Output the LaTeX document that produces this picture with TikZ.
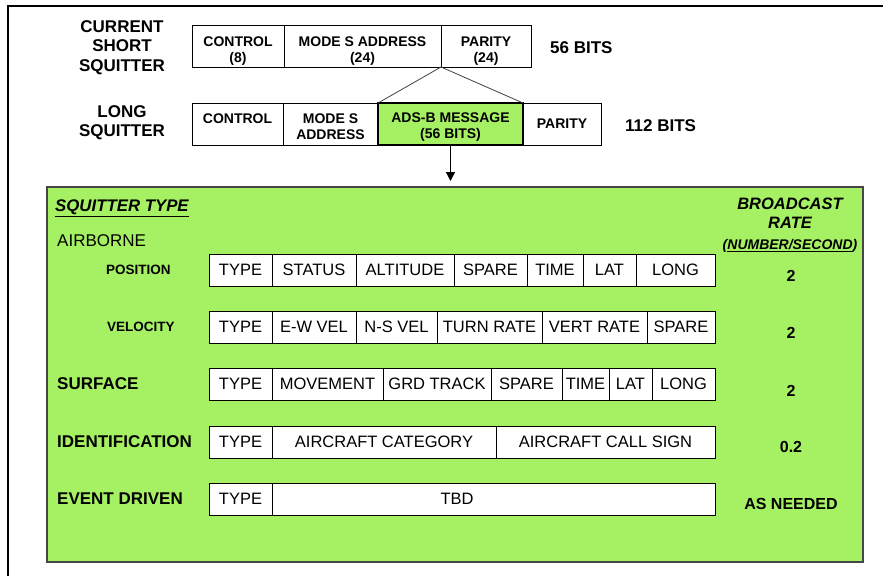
\documentclass[tikz,border=0pt]{standalone}
\usepackage{fontspec}
\setmainfont{Liberation Sans}
\usetikzlibrary{arrows.meta,positioning}
\definecolor{adsgreen}{RGB}{166,241,99}
\definecolor{panelrim}{RGB}{70,70,70}
\newcommand{\padtop}[1]{\rule{0pt}{#1}}
\tikzset{
  field/.style={draw=black, fill=white, line width=0.9pt, inner sep=0pt, outer sep=0pt, minimum height=32pt, font=\fontsize{16.5}{18}\selectfont},
  hdr/.style={draw=black, fill=white, line width=0.9pt, inner sep=0pt, outer sep=0pt, minimum height=42pt, align=center, font=\bfseries\fontsize{14}{16}\selectfont},
  title/.style={align=center, inner sep=0pt, font=\bfseries\fontsize{17}{19.5}\selectfont},
  kind/.style={anchor=west, inner sep=0pt, font=\bfseries\fontsize{17}{19}\selectfont},
  subkind/.style={anchor=west, inner sep=0pt, font=\bfseries\fontsize{13.5}{16}\selectfont},
  rate/.style={align=center, inner sep=0pt, font=\bfseries\fontsize{16}{19}\selectfont},
  link/.style={draw=black!75, line width=0.8pt},
  sig/.style={-{Triangle[length=9pt, width=9pt]}, line width=1.4pt, draw=black}
}
\begin{document}
\begin{tikzpicture}[x=1pt, y=-1pt]
  \useasboundingbox (0,0) rectangle (883,576);
  % page frame
  \draw[line width=2pt] (8,576) -- (8,6) -- (883,6);

  % short squitter
  \node[title] (stitle) at (122,47.5) {CURRENT\\SHORT\\SQUITTER};
  \node[hdr, minimum width=92pt, anchor=north west] (sctrl) at (192,25) {\padtop{20pt}CONTROL\\(8)};
  \node[hdr, minimum width=157pt, right=0pt of sctrl] (saddr) {\padtop{20pt}MODE S ADDRESS\\(24)};
  \node[hdr, minimum width=90pt, right=0pt of saddr] (spar) {\padtop{20pt}PARITY\\(24)};
  \node[title, anchor=west] (sbits) at (550,48) {56 BITS};

  % long squitter
  \node[title] (ltitle) at (122,122.5) {LONG\\SQUITTER};
  \node[hdr, minimum width=91pt, anchor=north west] (lctrl) at (192,103) {\padtop{15pt}CONTROL\\\phantom{ADDRESS}};
  \node[hdr, minimum width=95pt, right=0pt of lctrl] (laddr) {\padtop{15pt}MODE S\\ADDRESS};
  \node[hdr, minimum width=145pt, fill=adsgreen, line width=1.8pt, right=0pt of laddr] (lmsg) {\padtop{15pt}ADS-B MESSAGE\\(56 BITS)};
  \node[hdr, minimum width=78pt, fill=none, right=0pt of lmsg] (lpar) {PARITY};
  \node[title, anchor=west] (lbits) at (625,126) {112 BITS};

  \draw[link] (spar.south west) -- (lmsg.north west);
  \draw[link] (spar.south west) -- (lmsg.north east);
  \coordinate (msgend) at (450.5,181);
  \draw[sig] (lmsg.south) -- (msgend);

  % squitter types
  \node[draw=panelrim, fill=adsgreen, line width=1.3pt, inner sep=0pt, outer sep=0pt, minimum width=816pt, minimum height=375pt, anchor=north west] (panel) at (47,187) {};
  \node[kind, font=\bfseries\itshape\fontsize{16.8}{18}\selectfont] (sqtype) at (55,208) {\underline{SQUITTER TYPE}};
  \node[kind, font=\fontsize{17}{19}\selectfont] (air) at (57,241) {AIRBORNE};
  \node[subkind] (posn) at (106,270) {POSITION};
  \node[subkind] (velo) at (107,327) {VELOCITY};
  \node[kind] (surf) at (57,384) {SURFACE};
  \node[kind] (ident) at (57,442) {IDENTIFICATION};
  \node[kind] (event) at (57,499) {EVENT DRIVEN};

  \node[field, minimum width=63pt, anchor=north west] (p1) at (209,254) {TYPE};
  \node[field, minimum width=84pt, right=0pt of p1] (p2) {STATUS};
  \node[field, minimum width=98pt, right=0pt of p2] (p3) {ALTITUDE};
  \node[field, minimum width=73pt, right=0pt of p3] (p4) {SPARE};
  \node[field, minimum width=56pt, right=0pt of p4] (p5) {TIME};
  \node[field, minimum width=53pt, right=0pt of p5] (p6) {LAT};
  \node[field, minimum width=79pt, right=0pt of p6] (p7) {LONG};

  \node[field, minimum width=63pt, anchor=north west] (v1) at (209,311) {TYPE};
  \node[field, minimum width=84pt, right=0pt of v1] (v2) {E-W VEL};
  \node[field, minimum width=81pt, right=0pt of v2] (v3) {N-S VEL};
  \node[field, minimum width=105pt, right=0pt of v3] (v4) {TURN RATE};
  \node[field, minimum width=105pt, right=0pt of v4] (v5) {VERT RATE};
  \node[field, minimum width=68pt, right=0pt of v5] (v6) {SPARE};

  \node[field, minimum width=63pt, anchor=north west] (s1) at (209,368) {TYPE};
  \node[field, minimum width=111pt, right=0pt of s1] (s2) {MOVEMENT};
  \node[field, minimum width=108pt, right=0pt of s2] (s3) {GRD TRACK};
  \node[field, minimum width=71pt, right=0pt of s3] (s4) {SPARE};
  \node[field, minimum width=47pt, right=0pt of s4] (s5) {TIME};
  \node[field, minimum width=43pt, right=0pt of s5] (s6) {LAT};
  \node[field, minimum width=63pt, right=0pt of s6] (s7) {LONG};

  \node[field, minimum width=63pt, anchor=north west] (i1) at (209,426) {TYPE};
  \node[field, minimum width=224pt, right=0pt of i1] (i2) {AIRCRAFT CATEGORY};
  \node[field, minimum width=219pt, right=0pt of i2] (i3) {AIRCRAFT CALL SIGN};

  \node[field, minimum width=63pt, anchor=north west] (e1) at (209,483) {TYPE};
  \node[field, minimum width=443pt, right=0pt of e1] (e2) {};
  \node[font=\fontsize{16.5}{18}\selectfont, inner sep=0pt] (tbd) at (457,499) {TBD};

  % broadcast rates
  \node[rate, font=\bfseries\itshape\fontsize{16.5}{19}\selectfont] (bcast) at (790,213.5) {BROADCAST\\RATE};
  \node[rate, font=\bfseries\itshape\fontsize{14}{16}\selectfont] (units) at (790,246) {(\underline{NUMBER/SECOND})};
  \node[rate] (r1) at (791,276) {2};
  \node[rate] (r2) at (791,333) {2};
  \node[rate] (r3) at (791,391) {2};
  \node[rate] (r4) at (791,447) {0.2};
  \node[rate] (r5) at (791,504) {AS NEEDED};
\end{tikzpicture}
\end{document}
